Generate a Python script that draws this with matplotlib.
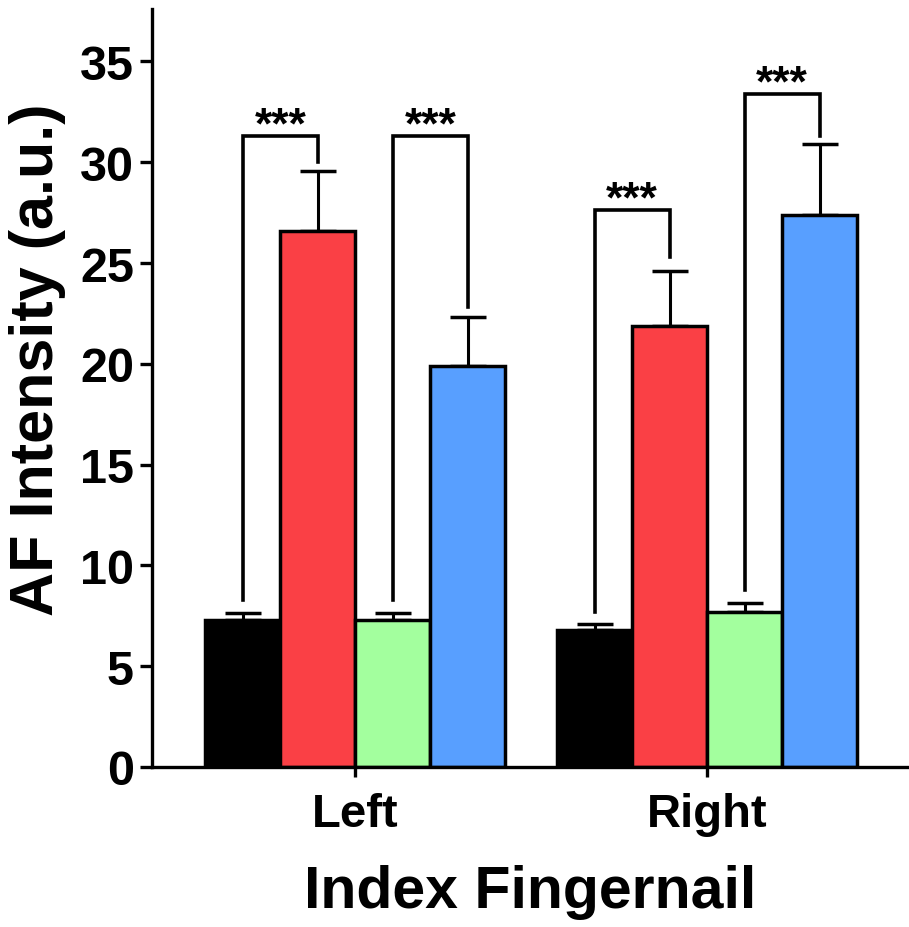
import numpy as np
import matplotlib
matplotlib.use('Agg')
import matplotlib.pyplot as plt

plt.rcParams['font.family'] = ['Liberation Sans', 'DejaVu Sans']
plt.rcParams['font.weight'] = 'bold'

groups = ['Left', 'Right']
colors = ['#000000', '#FA4045', '#A3FF9E', '#589FFF']
# bar heights per series (black, red, green, blue) for Left, Right
means = [[7.3, 6.8], [26.6, 21.9], [7.3, 7.7], [19.9, 27.4]]
errs = [[0.35, 0.3], [2.95, 2.7], [0.35, 0.45], [2.4, 3.5]]

# brackets: (group, series_from, series_to, y_left_start, y_top, y_right_end)
brackets = [
    (0, 0, 1, 8.3, 31.3, 30.0),
    (0, 2, 3, 8.3, 31.3, 22.8),
    (1, 0, 1, 7.7, 27.65, 25.3),
    (1, 2, 3, 8.8, 33.4, 31.3),
]
stars = '***'

group_x = np.array([0, 4.69])
offsets = [-1.5, -0.5, 0.5, 1.5]

fig = plt.figure(figsize=(9.09, 9.28), dpi=100)
ax = fig.add_axes([152/909, 1-768/928, 756/909, 758/928])

for i in range(4):
    ax.bar(group_x + offsets[i], means[i], width=1.0, color=colors[i],
           edgecolor='black', linewidth=2.5, zorder=2)
    ax.errorbar(group_x + offsets[i], means[i], yerr=[np.zeros(2), errs[i]],
                fmt='none', ecolor='black', elinewidth=2.2, capsize=13,
                capthick=2.5, zorder=1)

for g, a, b, y0, yt, y1 in brackets:
    xa = group_x[g] + offsets[a]
    xb = group_x[g] + offsets[b]
    ax.plot([xa, xa, xb, xb], [y0, yt, yt, y1], color='black', lw=2.6,
            solid_joinstyle='miter', zorder=3)
    ax.annotate(stars, xy=((xa + xb) / 2, yt), xytext=(0, -1),
                textcoords='offset points', ha='center', va='baseline',
                fontsize=32, fontweight='bold')

ax.set_xlim(-2.71, 7.37)
ax.set_ylim(0, 37.6)
ax.set_yticks(np.arange(0, 36, 5))
ax.set_xticks(group_x)
ax.set_xticklabels(groups)

for s in ['top', 'right']:
    ax.spines[s].set_visible(False)
for s in ['left', 'bottom']:
    ax.spines[s].set_linewidth(2.4)

ax.tick_params(axis='y', length=9, width=2.4, labelsize=35, pad=4)
ax.tick_params(axis='x', length=7, width=2.4, labelsize=34, pad=11)

ax.set_ylabel('AF Intensity (a.u.)', fontsize=44, fontweight='bold', va='center')
ax.yaxis.set_label_coords(-0.152, 0.538)
ax.set_xlabel('Index Fingernail', fontsize=42.5, fontweight='bold', labelpad=20)

fig.savefig('out.png', dpi=100)
